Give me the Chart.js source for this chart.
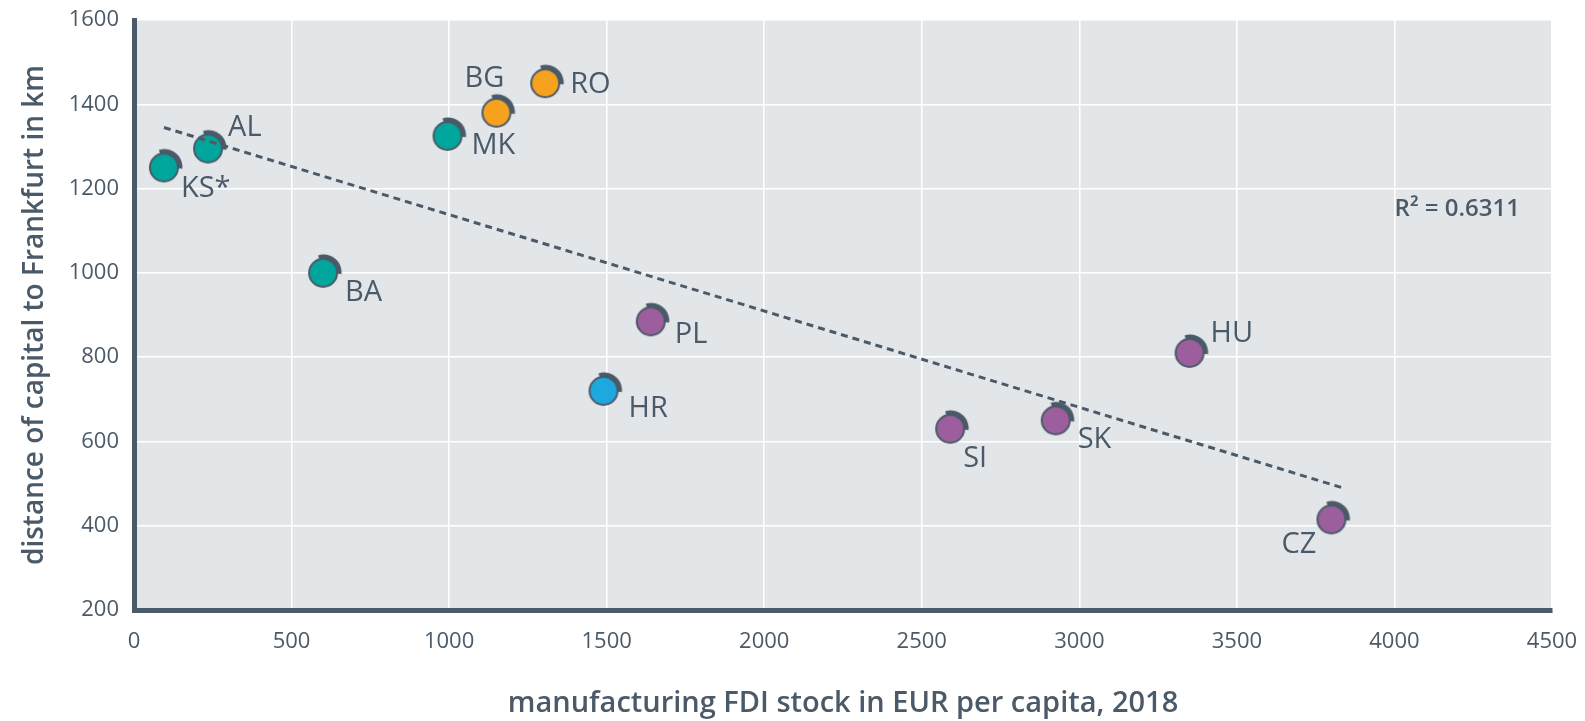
<!DOCTYPE html>
<html>
<head>
<meta charset="utf-8">
<script src="https://cdn.jsdelivr.net/npm/chart.js@4.4.0/dist/chart.umd.min.js"></script>
<style>
  html, body { margin: 0; padding: 0; background: #ffffff; }
  #wrap { width: 1585px; height: 721px; }
</style>
</head>
<body>
<div id="wrap"><canvas id="chart"></canvas></div>
<script>
// --- data ---
const countries = ['KS*', 'AL', 'BA', 'MK', 'BG', 'RO', 'HR', 'PL', 'SI', 'SK', 'HU', 'CZ'];
const fdiPerCapita = [95, 235, 600, 995, 1150, 1305, 1490, 1640, 2590, 2925, 3350, 3800];
const distanceKm = [1250, 1295, 1000, 1325, 1380, 1450, 720, 885, 630, 650, 810, 415];
const groups = ['wb', 'wb', 'wb', 'wb', 'see', 'see', 'hr', 'cee', 'cee', 'cee', 'cee', 'cee'];
const trendX = [95, 3835];
const trendY = [1345, 490];
const rSquared = '0.6311';
const xTicks = [0, 500, 1000, 1500, 2000, 2500, 3000, 3500, 4000, 4500];
const yTicks = [200, 400, 600, 800, 1000, 1200, 1400, 1600];

// --- styling ---
const DARK = '#4b5a68';
const FONT = '"Open Sans", sans-serif';
const groupColors = { wb: '#00a59b', see: '#f6a21e', hr: '#1ea8e0', cee: '#9c5e9c' };
// label placement next to each marker: [dx, dy, textAlign]
const labelPos = [
    [17, 21, 'left'], [20, -21, 'left'], [22, 20, 'left'], [24, 10, 'left'],
    [-12, -34, 'center'], [25, 2, 'left'], [25, 18, 'left'], [24, 13, 'left'],
    [13, 30, 'left'], [22, 19, 'left'], [21, -19, 'left'], [-15, 25, 'right']
];

// marker: coloured disc with a dark arc on its upper right
function makeMarker(color) {
    const size = 40, c = size / 2, r = 14;
    const cv = document.createElement('canvas');
    cv.width = size; cv.height = size;
    const g = cv.getContext('2d');
    g.strokeStyle = DARK;
    g.lineWidth = 5;
    g.beginPath();
    g.arc(c + 0.5, c - 0.5, r + 1.5, -Math.PI * 0.6, Math.PI * 0.03);
    g.stroke();
    g.beginPath();
    g.arc(c, c, r, 0, Math.PI * 2);
    g.fillStyle = color;
    g.fill();
    g.lineWidth = 2;
    g.stroke();
    return cv;
}
const markers = {};
Object.keys(groupColors).forEach(k => { markers[k] = makeMarker(groupColors[k]); });

const points = countries.map((c, i) => ({ x: fdiPerCapita[i], y: distanceKm[i] }));
const trend = trendX.map((x, i) => ({ x: x, y: trendY[i] }));

const plotBg = {
    id: 'plotBg',
    beforeDraw(chart) {
        const a = chart.chartArea, ctx = chart.ctx;
        ctx.save();
        ctx.fillStyle = '#e3e6e9';
        ctx.fillRect(a.left, a.top, a.right - a.left, a.bottom - a.top);
        ctx.restore();
    }
};

const pointLabels = {
    id: 'pointLabels',
    afterDatasetsDraw(chart) {
        const ctx = chart.ctx;
        const meta = chart.getDatasetMeta(1);
        ctx.save();
        ctx.font = '500 29px ' + FONT;
        ctx.fillStyle = DARK;
        ctx.textBaseline = 'middle';
        meta.data.forEach((el, i) => {
            const p = labelPos[i];
            ctx.textAlign = p[2];
            ctx.fillText(countries[i], el.x + p[0], el.y + p[1]);
        });
        // R² note
        const ys = chart.scales.y;
        ctx.textAlign = 'right';
        ctx.font = '600 24px ' + FONT;
        ctx.fillText('R\u00b2 = ' + rSquared, chart.chartArea.right - 32, ys.getPixelForValue(1150));
        ctx.restore();
    }
};

new Chart(document.getElementById('chart'), {
    type: 'scatter',
    data: {
        datasets: [
            {
                type: 'line',
                data: trend,
                borderColor: DARK,
                borderWidth: 3,
                borderDash: [7, 5],
                pointRadius: 0,
                fill: false
            },
            {
                data: points,
                pointStyle: groups.map(g => markers[g]),
                pointRadius: 15,
                pointHoverRadius: 15
            }
        ]
    },
    options: {
        responsive: true,
        maintainAspectRatio: false,
        animation: false,
        layout: { padding: { top: 20, right: 33, left: 0, bottom: 0 } },
        plugins: {
            legend: { display: false },
            tooltip: { enabled: false }
        },
        scales: {
            x: {
                type: 'linear',
                min: 0, max: 4500,
                afterBuildTicks: s => { s.ticks = xTicks.map(v => ({ value: v })); },
                afterFit: s => { s.height = 111; s.paddingLeft = 0; s.paddingRight = 0; },
                grid: { color: '#ffffff', lineWidth: 1.5, drawTicks: false },
                border: { display: true, color: DARK, width: 5 },
                ticks: { color: DARK, font: { size: 22, family: FONT }, padding: 19, callback: v => String(v) },
                title: {
                    display: true,
                    text: 'manufacturing FDI stock in EUR per capita, 2018',
                    color: DARK,
                    font: { size: 29, weight: '600', family: FONT },
                    padding: { top: 0, bottom: 0 }
                }
            },
            y: {
                min: 200, max: 1600,
                afterBuildTicks: s => { s.ticks = yTicks.map(v => ({ value: v })); },
                afterFit: s => { s.width = 134; s.paddingTop = 0; s.paddingBottom = 0; },
                grid: { color: '#ffffff', lineWidth: 1.5, drawTicks: false },
                border: { display: true, color: DARK, width: 5 },
                ticks: { color: DARK, font: { size: 22, family: FONT }, padding: 15, callback: v => String(v) },
                title: {
                    display: true,
                    text: 'distance of capital to Frankfurt in km',
                    color: DARK,
                    font: { size: 28, weight: '600', family: FONT },
                    padding: { top: 18, bottom: 0 }
                }
            }
        }
    },
    plugins: [plotBg, pointLabels]
});
</script>
</body>
</html>
